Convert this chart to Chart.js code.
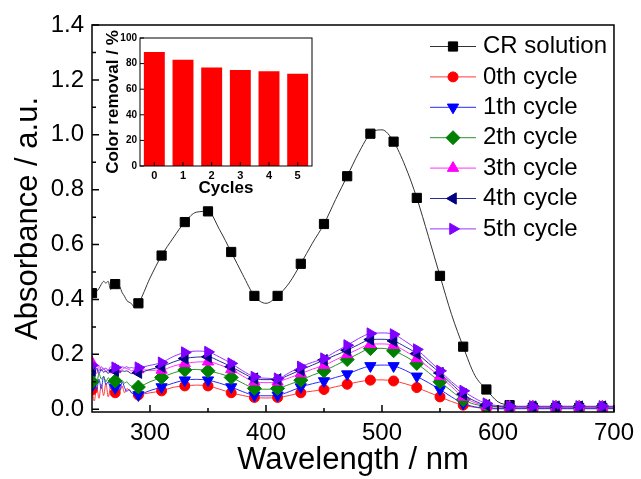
<!DOCTYPE html>
<html>
<head>
<meta charset="utf-8">
<script src="https://cdn.jsdelivr.net/npm/chart.js@4.4.1/dist/chart.umd.min.js"></script>
<style>
  html, body { margin: 0; padding: 0; background: #fff; }
  #wrap { position: relative; width: 641px; height: 479px; }
  #main { position: absolute; left: 0; top: 0; }
  #inset { position: absolute; left: 95px; top: 28px; }
</style>
</head>
<body>
<div id="wrap">
  <canvas id="main" width="641" height="479"></canvas>
  <canvas id="inset" width="225" height="175"></canvas>
</div>
<script>
// wavelength grid (nm): fine steps where the spectra are noisy, then every 10 nm
var wavelength = [250, 252, 254, 256, 258, 260, 262, 264, 266, 268, 270, 272, 274, 276, 278, 280, 282, 284, 286, 288, 290,
  300, 310, 320, 330, 340, 350, 360, 370, 380, 390, 400, 410, 420, 430, 440, 450, 460, 470, 480, 490,
  500, 510, 520, 530, 540, 550, 560, 570, 580, 590, 600, 610, 620, 630, 640, 650, 660, 670, 680, 690, 700];

var crSolution = [0.423, 0.428, 0.430, 0.440, 0.455, 0.466, 0.460, 0.466, 0.436, 0.460, 0.456, 0.452, 0.446, 0.425, 0.412, 0.396, 0.390, 0.385, 0.374, 0.380, 0.386,
  0.478, 0.560, 0.624, 0.682, 0.718, 0.721, 0.654, 0.573, 0.490, 0.413, 0.386, 0.413, 0.460, 0.530, 0.605, 0.675, 0.764, 0.849, 0.935, 1.004,
  1.018, 0.975, 0.886, 0.770, 0.630, 0.486, 0.345, 0.228, 0.124, 0.072, 0.027, 0.015, 0.008, 0.006, 0.005, 0.005, 0.005, 0.005, 0.005, 0.005, 0.005];

var cycle0 = [0.070, 0.030, 0.085, 0.040, 0.090, 0.050, 0.095, 0.045, 0.080, 0.055, 0.060, 0.095, 0.065, 0.085, 0.060, 0.075, 0.070, 0.060, 0.055, 0.050, 0.052,
  0.060, 0.067, 0.080, 0.085, 0.088, 0.085, 0.073, 0.060, 0.050, 0.043, 0.041, 0.043, 0.050, 0.060, 0.066, 0.072, 0.082, 0.091, 0.100, 0.106,
  0.107, 0.103, 0.093, 0.079, 0.062, 0.045, 0.028, 0.015, 0.007, 0.003, 0.002, 0.003, 0.003, 0.003, 0.003, 0.003, 0.003, 0.003, 0.003, 0.003, 0.003];

var cycle1 = [0.085, 0.100, 0.070, 0.110, 0.075, 0.120, 0.090, 0.100, 0.075, 0.095, 0.078, 0.090, 0.070, 0.100, 0.080, 0.065, 0.072, 0.060, 0.055, 0.050, 0.052,
  0.068, 0.081, 0.095, 0.106, 0.109, 0.106, 0.095, 0.081, 0.064, 0.051, 0.049, 0.051, 0.064, 0.081, 0.093, 0.103, 0.116, 0.128, 0.145, 0.158,
  0.161, 0.158, 0.142, 0.120, 0.097, 0.072, 0.045, 0.021, 0.009, 0.003, 0.002, 0.002, 0.002, 0.002, 0.002, 0.002, 0.002, 0.002, 0.002, 0.002, 0.002];

var cycle2 = [0.100, 0.120, 0.090, 0.130, 0.110, 0.120, 0.100, 0.115, 0.105, 0.110, 0.103, 0.110, 0.100, 0.105, 0.095, 0.100, 0.090, 0.085, 0.082, 0.080, 0.081,
  0.100, 0.116, 0.132, 0.143, 0.145, 0.140, 0.130, 0.116, 0.095, 0.076, 0.073, 0.076, 0.090, 0.106, 0.124, 0.140, 0.160, 0.181, 0.203, 0.221,
  0.222, 0.213, 0.193, 0.167, 0.134, 0.100, 0.066, 0.035, 0.018, 0.011, 0.008, 0.007, 0.007, 0.007, 0.007, 0.007, 0.007, 0.007, 0.007, 0.007, 0.007];

var cycle3 = [0.170, 0.150, 0.130, 0.160, 0.140, 0.150, 0.135, 0.145, 0.140, 0.150, 0.145, 0.150, 0.140, 0.145, 0.150, 0.148, 0.145, 0.140, 0.143, 0.145, 0.145,
  0.142, 0.143, 0.157, 0.167, 0.172, 0.173, 0.162, 0.145, 0.121, 0.100, 0.097, 0.100, 0.114, 0.130, 0.146, 0.160, 0.180, 0.200, 0.220, 0.237,
  0.238, 0.233, 0.212, 0.185, 0.153, 0.120, 0.082, 0.045, 0.024, 0.012, 0.009, 0.008, 0.008, 0.008, 0.008, 0.008, 0.008, 0.008, 0.008, 0.008, 0.008];

var cycle4 = [0.140, 0.125, 0.150, 0.130, 0.145, 0.135, 0.140, 0.130, 0.145, 0.135, 0.140, 0.145, 0.135, 0.140, 0.138, 0.140, 0.135, 0.130, 0.133, 0.133, 0.133,
  0.145, 0.155, 0.172, 0.185, 0.190, 0.191, 0.175, 0.155, 0.132, 0.112, 0.108, 0.109, 0.125, 0.143, 0.161, 0.179, 0.197, 0.215, 0.236, 0.254,
  0.255, 0.249, 0.228, 0.203, 0.168, 0.132, 0.092, 0.055, 0.030, 0.015, 0.011, 0.010, 0.010, 0.010, 0.010, 0.010, 0.010, 0.010, 0.010, 0.010, 0.010];

var cycle5 = [0.160, 0.145, 0.150, 0.140, 0.155, 0.145, 0.150, 0.140, 0.155, 0.150, 0.152, 0.155, 0.150, 0.155, 0.152, 0.155, 0.150, 0.152, 0.150, 0.152, 0.152,
  0.160, 0.170, 0.192, 0.207, 0.212, 0.209, 0.190, 0.167, 0.140, 0.118, 0.113, 0.112, 0.133, 0.155, 0.171, 0.185, 0.210, 0.233, 0.258, 0.276,
  0.278, 0.273, 0.248, 0.218, 0.180, 0.140, 0.100, 0.067, 0.040, 0.021, 0.013, 0.011, 0.011, 0.011, 0.011, 0.011, 0.011, 0.011, 0.011, 0.011, 0.011];

var seriesNames = ['CR solution', '0th cycle', '1th cycle', '2th cycle', '3th cycle', '4th cycle', '5th cycle'];
var seriesValues = [crSolution, cycle0, cycle1, cycle2, cycle3, cycle4, cycle5];

var xTicks = [300, 400, 500, 600, 700];
var xMinorTicks = [350, 450, 550, 650];
var yTicks = [0, 0.2, 0.4, 0.6, 0.8, 1.0, 1.2, 1.4];
var yMinorTicks = [0.1, 0.3, 0.5, 0.7, 0.9, 1.1, 1.3];

// inset: colour removal per cycle
var cycleLabels = ['0', '1', '2', '3', '4', '5'];
var colorRemoval = [89, 83, 77, 75, 74, 72];
var removalTicks = [0, 20, 40, 60, 80, 100];

// styles
var seriesColors = ['#000000', '#ff0000', '#0000ff', '#008000', '#ff00ff', '#000080', '#8000ff'];
var lineColors = ['#333333', '#ff3b3b', '#2a2aff', '#2f8f2f', '#ff33ff', '#2a2a99', '#9933ff'];
var markerShape = ['rect', 'circle', 'triangle', 'rectRot', 'triangle', 'triangle', 'triangle'];
var markerSize = [6.5, 5, 6.5, 7, 6.5, 6.5, 6.5];
var markerTurn = [0, 0, 180, 0, 0, -90, 90];

Chart.defaults.font.family = '"Liberation Sans", Arial, sans-serif';
Chart.defaults.color = '#000';

function isMarker(w) {
  return (w - 250) % 20 === 0;
}

// box frame + inward ticks (Origin style)
var frameTicks = {
  id: 'frameTicks',
  afterDatasetsDraw: function (chart, args, o) {
    var ctx = chart.ctx, a = chart.chartArea, sx = chart.scales.x, sy = chart.scales.y;
    ctx.save();
    ctx.strokeStyle = '#000';
    ctx.lineWidth = o.lineWidth;
    ctx.strokeRect(a.left, a.top, a.right - a.left, a.bottom - a.top);
    ctx.beginPath();
    o.xMajor.forEach(function (v) { var x = sx.getPixelForValue(v); ctx.moveTo(x, a.bottom); ctx.lineTo(x, a.bottom - o.major); });
    o.xMinor.forEach(function (v) { var x = sx.getPixelForValue(v); ctx.moveTo(x, a.bottom); ctx.lineTo(x, a.bottom - o.minor); });
    o.yMajor.forEach(function (v) { var y = sy.getPixelForValue(v); ctx.moveTo(a.left, y); ctx.lineTo(a.left + o.major, y); });
    o.yMinor.forEach(function (v) { var y = sy.getPixelForValue(v); ctx.moveTo(a.left, y); ctx.lineTo(a.left + o.minor, y); });
    ctx.stroke();
    ctx.restore();
  }
};

// legend with line + marker, like the Origin legend
var lineLegend = {
  id: 'lineLegend',
  afterDraw: function (chart) {
    var ctx = chart.ctx;
    ctx.save();
    chart.data.datasets.forEach(function (ds, i) {
      var y = 46.5 + i * 30.4;
      ctx.strokeStyle = ds.borderColor;
      ctx.lineWidth = 1;
      ctx.beginPath();
      ctx.moveTo(430, y);
      ctx.lineTo(476, y);
      ctx.stroke();
      ctx.strokeStyle = ds.pointBorderColor;
      ctx.fillStyle = ds.backgroundColor;
      Chart.helpers.drawPoint(ctx, { pointStyle: markerShape[i], rotation: markerTurn[i], radius: markerSize[i], borderWidth: 1 }, 453, y);
      ctx.fillStyle = '#000';
      ctx.font = '24px "Liberation Sans", Arial, sans-serif';
      ctx.textBaseline = 'middle';
      ctx.textAlign = 'left';
      ctx.fillText(ds.label, 483, y);
    });
    ctx.restore();
  }
};

new Chart(document.getElementById('main'), {
  type: 'line',
  data: {
    datasets: seriesValues.map(function (vals, i) {
      return {
        label: seriesNames[i],
        data: wavelength.map(function (w, j) { return { x: w, y: vals[j] }; }),
        borderColor: lineColors[i],
        backgroundColor: seriesColors[i],
        pointBorderColor: seriesColors[i],
        pointBackgroundColor: seriesColors[i],
        borderWidth: 1,
        cubicInterpolationMode: 'monotone',
        pointStyle: markerShape[i],
        pointRotation: markerTurn[i],
        pointRadius: function (c) { return isMarker(wavelength[c.dataIndex]) ? markerSize[i] : 0; },
        pointBorderWidth: 1,
        clip: 0,
        order: seriesValues.length - 1 - i
      };
    })
  },
  options: {
    responsive: false,
    animation: false,
    events: [],
    layout: { padding: { top: 25, right: 26, left: 0, bottom: 0 } },
    plugins: {
      legend: { display: false },
      tooltip: { enabled: false },
      frameTicks: { lineWidth: 1.5, major: 7, minor: 4, xMajor: xTicks, xMinor: xMinorTicks, yMajor: yTicks, yMinor: yMinorTicks }
    },
    scales: {
      x: {
        type: 'linear', min: 250, max: 700,
        afterBuildTicks: function (s) { s.ticks = xTicks.map(function (v) { return { value: v }; }); },
        afterFit: function (s) { s.height = 67; },
        grid: { display: false, drawTicks: false },
        border: { display: false },
        ticks: { font: { size: 24 }, color: '#000', padding: 7, maxRotation: 0, autoSkip: false },
        title: { display: true, text: 'Wavelength / nm', font: { size: 31 }, color: '#000', padding: { top: 0, bottom: 0 } }
      },
      y: {
        min: -0.01, max: 1.4,
        afterBuildTicks: function (s) { s.ticks = yTicks.map(function (v) { return { value: v }; }); },
        afterFit: function (s) { s.width = 92; },
        grid: { display: false, drawTicks: false },
        border: { display: false },
        ticks: { font: { size: 24 }, color: '#000', padding: 8, callback: function (v) { return Number(v).toFixed(1); } },
        title: { display: true, text: 'Absorbance / a.u.', font: { size: 31 }, color: '#000', padding: { top: 10, bottom: 0 } }
      }
    }
  },
  plugins: [frameTicks, lineLegend]
});

new Chart(document.getElementById('inset'), {
  type: 'bar',
  data: {
    labels: cycleLabels,
    datasets: [{ data: colorRemoval, backgroundColor: '#ff0000', borderWidth: 0, barPercentage: 0.73, categoryPercentage: 1 }]
  },
  options: {
    responsive: false,
    animation: false,
    events: [],
    layout: { padding: { top: 10, right: 8, left: 0, bottom: 0 } },
    plugins: {
      legend: { display: false },
      tooltip: { enabled: false },
      frameTicks: { lineWidth: 1, major: 4, minor: 0, xMajor: [0, 1, 2, 3, 4, 5], xMinor: [], yMajor: removalTicks, yMinor: [] }
    },
    scales: {
      x: {
        afterFit: function (s) { s.height = 37; },
        grid: { display: false, drawTicks: false },
        border: { display: false },
        ticks: { font: { size: 11, weight: 'bold' }, color: '#000', padding: 3 },
        title: { display: true, text: 'Cycles', font: { size: 17, weight: 'bold' }, color: '#000', padding: { top: 0, bottom: 4 } }
      },
      y: {
        min: 0, max: 100,
        afterBuildTicks: function (s) { s.ticks = removalTicks.map(function (v) { return { value: v }; }); },
        afterFit: function (s) { s.width = 45; },
        grid: { display: false, drawTicks: false },
        border: { display: false },
        ticks: { font: { size: 10, weight: 'bold' }, color: '#000', padding: 3 },
        title: { display: true, text: 'Color removal / %', font: { size: 17, weight: 'bold' }, color: '#000', padding: { top: 8, bottom: 0 } }
      }
    }
  },
  plugins: [frameTicks]
});
</script>
</body>
</html>
